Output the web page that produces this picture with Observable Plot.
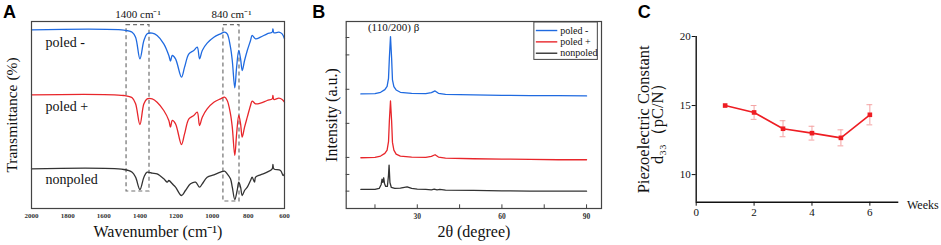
<!DOCTYPE html>
<html><head><meta charset="utf-8">
<script src="https://cdn.jsdelivr.net/npm/d3@7"></script>
<script src="https://cdn.jsdelivr.net/npm/@observablehq/plot@0.6"></script>
<style>
html,body{margin:0;padding:0;background:#fff;}
#wrap{position:relative;width:941px;height:245px;overflow:hidden;background:#fff;}
#wrap > svg{position:absolute;top:0;}
</style></head><body><div id="wrap"></div>
<script>
// ---------- shared ----------
const seriesNames = ["poled -", "poled +", "nonpoled"];
const seriesColors = ["#1f6ae0", "#e8262b", "#333333"];

// ---------- Panel A : FTIR ----------
const aWnPoled = [2000,1489,1443,1424,1400,1378,1360,1332,1305,1268,1240,1231,1221,1203,1170,1153,1129,1102,1083,1070,1055,1028,991,954,932,917,899,889,875,865,853,843,834,821,806,788,779,760,733,696,668,664,659,631,613,600];
const aBlueT = [521,520,514,499,434,489,509,511,504,479,444,427,444,434,379,409,449,459,469,434,459,481,499,509,514,509,469,429,347,409,459,434,399,429,459,489,504,494,499,509,514,524,512,514,509,494];
const aRedT  = [326,324,317,299,237,299,314,314,304,279,249,229,249,239,177,209,254,264,274,234,259,284,304,314,319,309,269,229,144,209,264,239,199,229,259,294,307,299,301,309,314,324,312,316,312,304];
const aWnNon = [2000,1489,1443,1424,1400,1378,1360,1332,1305,1268,1249,1240,1221,1203,1170,1148,1120,1092,1070,1055,1028,991,954,932,917,899,889,875,862,853,843,834,821,806,788,779,766,760,733,696,668,664,659,622,607,600];
const aBlackT = [104,102,94,79,42,79,94,91,89,74,64,69,59,49,24,39,59,64,49,59,79,86,94,97,89,74,49,12,39,64,49,24,39,49,69,79,64,79,86,94,104,117,104,99,84,89];
const aTicks = [2000,1800,1600,1400,1200,1000,800,600];
const aBoxNames = ["1400 cm⁻¹", "840 cm⁻¹"];
const aBoxX1 = [1474, 938];
const aBoxX2 = [1347, 849];
const aBoxTop = [535, 535];
const aBoxBottom = [36, 6];
const aLabelWn = [1922, 1922, 1922];
const aLabelT = [482, 291, 71];

// ---------- Panel B : XRD ----------
const bThetaPoled = [10,15,17,18.5,19.3,19.8,20.1,20.5,20.9,21.2,21.7,22.5,24,28,33,35,36.3,37.5,40,50,60,70,80,90];
const bBlueI = [343,344,348,356,366,390,450,515,450,385,365,355,348,345,344,347,352,345,342,340,339,338,338,337];
const bRedI  = [152,153,157,165,175,200,262,322,262,198,175,163,157,154,153,156,161,154,151,149,148,147,146,146];
const bThetaNon = [10,15,16.5,17.2,17.5,17.8,18.1,18.4,18.8,19.4,19.8,20.0,20.3,20.8,22,24,26.4,28,30,33,35,36,37,38,40,50,60,70,80,90];
const bBlackI = [57,57,60,72,88,78,92,74,66,66,100,130,78,63,60,61,65,60,58,57,56,58,56,57,55,54,53,52,52,52];
const bXTicks = [30,60,90];
const bXMinor = [15,30,45,60,75,90];
const bYTicks = [52,102,153,255,357,460,512];

// ---------- Panel C : d33 ----------
const cWeeks = [1,2,3,4,5,6];
const cD33 = [15.0,14.5,13.32,13.0,12.66,14.33];
const cErr = [0,0.5,0.58,0.5,0.58,0.73];
const cXTicks = [0,2,4,6];
const cYTicks = [10,15,20];

// ---------- build ----------
const serif = "'Liberation Serif','Times New Roman',serif";
const sans = "'Liberation Sans',Arial,sans-serif";
const fmt = d3.format("d");
const wrap = document.getElementById("wrap");
function place(svg, left){ svg.style.left = left + "px"; svg.style.position="absolute"; svg.style.top="0px"; wrap.appendChild(svg); }
const T = {textAnchor: "middle", lineAnchor: "middle", fill: "#111", fontFamily: serif};

const ftir = [];
seriesNames.forEach((s, k) => {
  const wn = k < 2 ? aWnPoled : aWnNon;
  const t = [aBlueT, aRedT, aBlackT][k];
  wn.forEach((w, i) => ftir.push({series: s, wn: w, t: t[i]}));
});
const boxes = aBoxNames.map((n, i) => ({name: n, x1: aBoxX1[i], x2: aBoxX2[i], y1: aBoxBottom[i], y2: aBoxTop[i]}));
const aLabels = seriesNames.map((n, i) => ({name: n, wn: aLabelWn[i], t: aLabelT[i]}));

const plotA = Plot.plot({
  width: 300, height: 245,
  marginLeft: 31, marginRight: 16, marginTop: 21, marginBottom: 37,
  x: {domain: [2000, 600]},
  y: {domain: [-15, 546], axis: null},
  color: {domain: seriesNames, range: seriesColors},
  style: {fontFamily: serif, background: "transparent", color: "#222"},
  marks: [
    Plot.rect(boxes, {x1: "x1", x2: "x2", y1: "y1", y2: "y2", fill: "none", stroke: "#707070", strokeWidth: 1.2, strokeDasharray: "4,3"}),
    Plot.line(ftir, {x: "wn", y: "t", z: "series", stroke: "series", strokeWidth: 1.3, curve: "catmull-rom"}),
    Plot.frame({stroke: "#444", strokeWidth: 1.2}),
    Plot.axisX({ticks: aTicks, tickFormat: fmt, tickSize: 0, tickPadding: 5, fontSize: 7, fontWeight: "bold", fontFamily: serif, fill: "#333", label: null}),
    Plot.text(aLabels, {...T, x: "wn", y: "t", text: "name", textAnchor: "start", fontSize: 14}),
    Plot.text(boxes, {...T, x: d => (d.x1 + d.x2) / 2, text: "name", frameAnchor: "top", dy: -7, fontSize: 11}),
    Plot.text(["Wavenumber (cm⁻¹)"], {...T, frameAnchor: "bottom", dy: 23, fontSize: 16}),
    Plot.text(["Transmittance (%)"], {...T, frameAnchor: "left", rotate: -90, dx: -19, fontSize: 15.5}),
    Plot.text(["A"], {...T, frameAnchor: "top-left", dx: -22, dy: -9, fontSize: 18, fontWeight: "bold", fontFamily: sans, fill: "#000"})
  ]
});
place(plotA, 0);

const xrd = [];
seriesNames.forEach((s, k) => {
  const th = k < 2 ? bThetaPoled : bThetaNon;
  const v = [bBlueI, bRedI, bBlackI][k];
  th.forEach((x, i) => xrd.push({series: s, theta: x, I: v[i]}));
});
const bx0 = 4.8, bx1 = 95.3;
const legendRows = seriesNames.map((n, i) => ({name: n, y: 533 - i * 34}));

const plotB = Plot.plot({
  width: 320, height: 245,
  marginLeft: 40.7, marginRight: 24, marginTop: 21, marginBottom: 37,
  x: {domain: [bx0, bx1]},
  y: {domain: [0, 560], axis: null},
  color: {domain: seriesNames, range: seriesColors},
  style: {fontFamily: serif, background: "transparent", color: "#222"},
  marks: [
    Plot.line(xrd, {x: "theta", y: "I", z: "series", stroke: "series", strokeWidth: 1.3}),
    Plot.ruleX(bXMinor, {x: d => d, y1: 0, y2: 11, stroke: "#444"}),
    Plot.ruleY(bYTicks, {y: d => d, x1: bx0, x2: bx0 + 1.3, stroke: "#444"}),
    Plot.frame({stroke: "#444", strokeWidth: 1.2}),
    Plot.axisX({ticks: bXTicks, tickFormat: fmt, tickSize: 0, tickPadding: 5, fontSize: 7.5, fontWeight: "bold", fontFamily: serif, fill: "#333", label: null}),
    Plot.rect([0], {x1: 71.5, x2: 94.0, y1: 445, y2: 557, fill: "white", stroke: "#444", strokeWidth: 1}),
    Plot.ruleY(legendRows, {y: "y", x1: 72.2, x2: 79.8, stroke: "name", strokeWidth: 1.4}),
    Plot.text(legendRows, {...T, x: 80.7, y: "y", text: "name", textAnchor: "start", fontSize: 10}),
    Plot.text(["(110/200) β"], {...T, x: 21.6, y: 543, fontSize: 11}),
    Plot.text(["2θ (degree)"], {...T, frameAnchor: "bottom", dy: 23, fontSize: 16}),
    Plot.text(["Intensity (a.u.)"], {...T, frameAnchor: "left", rotate: -90, dx: -14, fontSize: 16}),
    Plot.text(["B"], {...T, frameAnchor: "top-left", dx: -27.4, dy: -9.5, fontSize: 18, fontWeight: "bold", fontFamily: sans, fill: "#000"})
  ]
});
place(plotB, 305);

const d33 = cWeeks.map((w, i) => ({w, v: cD33[i], lo: cD33[i] - cErr[i], hi: cD33[i] + cErr[i], e: cErr[i]}));
const d33e = d33.filter(d => d.e > 0);
const caps = d33e.flatMap(d => [{w: d.w, y: d.lo}, {w: d.w, y: d.hi}]);

const plotC = Plot.plot({
  width: 316, height: 245,
  marginLeft: 70.7, marginRight: 42.7, marginTop: 36, marginBottom: 43.3,
  x: {domain: [0, 7]},
  y: {domain: [8, 20]},
  style: {fontFamily: serif, background: "transparent", color: "#111"},
  marks: [
    Plot.ruleY([8], {stroke: "#111", strokeWidth: 1.4}),
    Plot.ruleX([0], {stroke: "#111", strokeWidth: 1.4}),
    Plot.axisY({ticks: cYTicks, tickFormat: fmt, tickSize: 4, tickPadding: 1.5, fontSize: 11, fontFamily: serif, label: null}),
    Plot.axisX({ticks: cXTicks, tickFormat: fmt, tickSize: 4, tickPadding: 2, fontSize: 11, fontFamily: serif, label: null}),
    Plot.ruleX(d33e, {x: "w", y1: "lo", y2: "hi", stroke: "#f4a3a3", strokeWidth: 1}),
    Plot.ruleY(caps, {y: "y", x1: d => d.w - 0.1, x2: d => d.w + 0.1, stroke: "#f4a3a3", strokeWidth: 1}),
    Plot.line(d33, {x: "w", y: "v", stroke: "#ee1d23", strokeWidth: 1.6}),
    Plot.dot(d33, {x: "w", y: "v", symbol: "square", r: 2.6, fill: "#ee1d23", stroke: "none"}),
    Plot.text(["Weeks"], {...T, frameAnchor: "bottom-right", dx: 24, dy: 3, fontSize: 12}),
    Plot.text(["Piezoelectric Constant"], {...T, frameAnchor: "left", rotate: -90, dx: -52.4, fontSize: 16.5}),
    Plot.text(["d₃₃（pC/N）"], {...T, frameAnchor: "left", rotate: -90, dx: -38.4, fontSize: 16.5}),
    Plot.text(["C"], {...T, frameAnchor: "top-left", dx: -52, dy: -24.3, fontSize: 18, fontWeight: "bold", fontFamily: sans, fill: "#000"})
  ]
});
place(plotC, 625);
</script>
</body></html>
